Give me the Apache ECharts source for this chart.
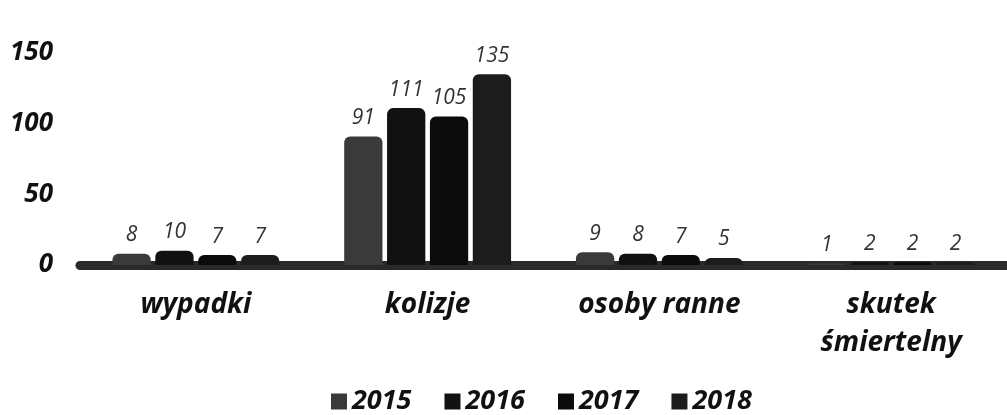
<!DOCTYPE html>
<html lang="pl">
<head>
<meta charset="UTF-8">
<title>Wypadki i kolizje</title>
<script src="https://cdn.jsdelivr.net/npm/echarts@6/dist/echarts.min.js"></script>
</head>
<body style="margin:0;background:#fff">
<div id="main" style="width:1007px;height:415px;"></div>
<script>
var categories = ['wypadki', 'kolizje', 'osoby ranne', 'skutek\nśmiertelny'];
var years = ['2015', '2016', '2017', '2018'];
var v2015 = [8, 91, 9, 1];
var v2016 = [10, 111, 8, 2];
var v2017 = [7, 105, 7, 2];
var v2018 = [7, 135, 5, 2];
var yTicks = [0, 50, 100, 150];

var colors = ['#3a3a3a', '#111111', '#0b0b0b', '#1c1c1c'];
var font = "'Open Sans', 'DejaVu Sans', sans-serif";

var chart = echarts.init(document.getElementById('main'));

var values = [v2015, v2016, v2017, v2018];
var series = years.map(function (y, i) {
    return {
        name: y,
        type: 'bar',
        data: values[i],
        itemStyle: { color: colors[i], borderRadius: [6, 6, 0, 0] },
        label: {
            show: true,
            position: 'top',
            distance: 8,
            fontFamily: font,
            fontStyle: 'italic',
            fontSize: 21,
            color: '#333'
        }
    };
});

chart.setOption({
    animation: false,
    textStyle: { fontFamily: font },
    grid: { left: 80, right: 0, top: 53, bottom: 150 },
    legend: {
        data: years,
        left: 326,
        top: 383,
        itemWidth: 16,
        itemHeight: 16,
        itemGap: 33,
        icon: 'rect',
        textStyle: { fontSize: 27, fontWeight: 'bold', fontStyle: 'italic', color: '#111', fontFamily: font }
    },
    xAxis: {
        type: 'category',
        data: categories,
        axisTick: { show: false },
        axisLine: { show: true, lineStyle: { color: '#2a2a2a', width: 9 } },
        axisLabel: {
            margin: 21,
            fontSize: 28,
            fontWeight: 'bold',
            fontStyle: 'italic',
            color: '#111',
            lineHeight: 38,
            fontFamily: font
        }
    },
    yAxis: {
        type: 'value',
        min: yTicks[0],
        max: yTicks[yTicks.length - 1],
        interval: 50,
        splitLine: { show: false },
        axisLine: { show: false },
        axisLabel: {
            margin: 27,
            fontSize: 26,
            fontWeight: 'bold',
            fontStyle: 'italic',
            color: '#111',
            fontFamily: font
        }
    },
    series: series,
    barGap: '12%',
    barCategoryGap: '28%'
});
</script>
</body>
</html>
